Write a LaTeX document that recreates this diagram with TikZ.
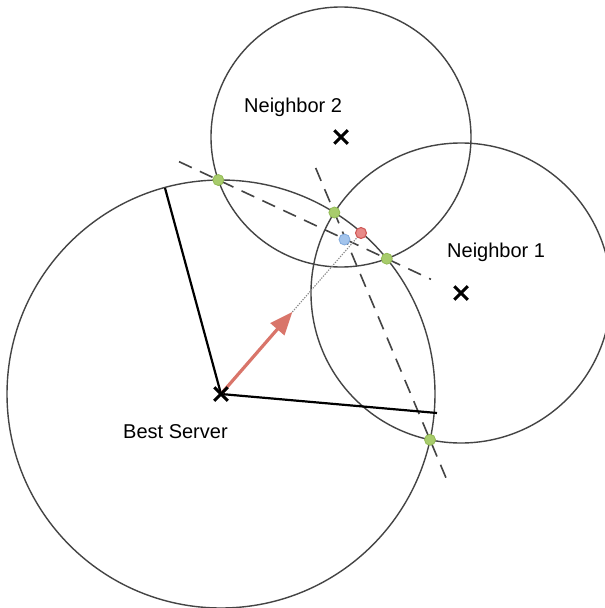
\documentclass[tikz,border=0pt]{standalone}
\usepackage{fontspec}
\setmainfont{Liberation Sans}
\usetikzlibrary{calc,arrows.meta,shapes.misc}
\definecolor{circgray}{HTML}{444444}
\definecolor{dotgreen}{HTML}{A8CC6C}
\definecolor{dotgreenline}{HTML}{93BB55}
\definecolor{dotred}{HTML}{E88A88}
\definecolor{dotredline}{HTML}{CF5A58}
\definecolor{dotblue}{HTML}{A3C4EC}
\definecolor{dotblueline}{HTML}{80A9DC}
\definecolor{arrowred}{HTML}{D9756A}
\definecolor{dotgray}{HTML}{888888}
\begin{document}
\begin{tikzpicture}[x=1pt,y=-1pt,
  circ/.style={draw=circgray, line width=1.4pt},
  radline/.style={draw=black, line width=2.2pt},
  dashline/.style={draw=circgray, line width=1.6pt, dash pattern=on 14pt off 9pt},
  dotline/.style={draw=dotgray, line width=1.1pt, dash pattern=on 1.3pt off 1.3pt},
  arrowline/.style={draw=arrowred, line width=3.2pt, -{Triangle[length=23pt,width=18pt]}},
  xmark/.style={draw=black, cross out, line width=3pt, minimum size=10.5pt, inner sep=0pt},
  gdot/.style={circle, fill=dotgreen, draw=dotgreenline, line width=0.8pt, minimum size=11pt, inner sep=0pt},
  rdot/.style={circle, fill=dotred, draw=dotredline, line width=1.1pt, minimum size=11pt, inner sep=0pt},
  bdot/.style={circle, fill=dotblue, draw=dotblueline, line width=0.8pt, minimum size=11pt, inner sep=0pt},
  lbl/.style={anchor=base west, inner sep=0pt, font=\fontsize{20}{24}\selectfont}]
  \fill[white] (0,0) rectangle (605,608);
  \clip (0,0) rectangle (605,608);

  % centres
  \coordinate (B) at (221,394);
  \coordinate (N2) at (341,137);
  \coordinate (N1) at (461,293);
  % circle intersections
  \coordinate (g1) at (218.3,180.0);
  \coordinate (g3) at (386.8,258.7);
  \coordinate (g2) at (334.4,212.5);
  \coordinate (g4) at (430.0,439.8);
  % radius ends
  \coordinate (r1) at (165,188);
  \coordinate (r2) at (437,413);
  % estimate points
  \coordinate (R) at (361,233);
  \coordinate (T) at ($(B)!0.51!(R)$);

  % circles
  \draw[circ] (B) circle[radius=214];
  \draw[circ] (N2) circle[radius=130];
  \draw[circ] (N1) circle[radius=150];

  % radical lines
  \draw[dashline] ($(g1)!-0.233!(g3)$) -- ($(g1)!1.262!(g3)$);
  \draw[dashline] ($(g2)!-0.196!(g4)$) -- ($(g2)!1.19!(g4)$);

  % radii
  \draw[radline] (B) -- (r1);
  \draw[radline] (B) -- (r2);

  % estimate direction
  \draw[dotline] (T) -- (R);
  \draw[arrowline] (B) -- (T);

  % points
  \node[gdot] (p1) at (g1) {};
  \node[gdot] (p2) at (g2) {};
  \node[gdot] (p3) at (g3) {};
  \node[gdot] (p4) at (g4) {};
  \node[bdot] (pb) at (344.5,239.5) {};
  \node[rdot] (pr) at (R) {};

  % centre marks
  \node[xmark] (xB) at (B) {};
  \node[xmark] (xN2) at (N2) {};
  \node[xmark] (xN1) at (N1) {};

  % labels
  \node[lbl] (lN2) at (244,112) {Neighbor 2};
  \node[lbl] (lN1) at (447,257) {Neighbor 1};
  \node[lbl] (lB) at (123,438) {Best Server};
\end{tikzpicture}
\end{document}
